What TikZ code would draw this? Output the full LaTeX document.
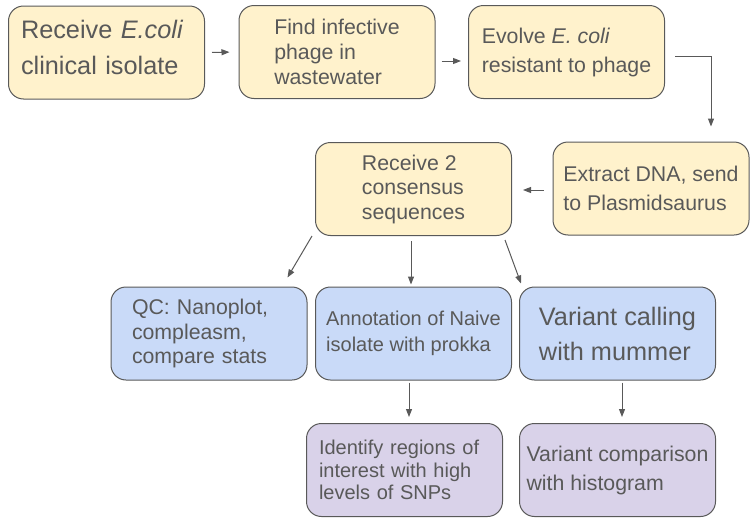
\documentclass[tikz,border=0pt]{standalone}
\usepackage{fontspec}
\setmainfont{Liberation Sans}
\usetikzlibrary{arrows.meta}
\definecolor{boxyellow}{HTML}{FFF2CC}
\definecolor{boxblue}{HTML}{C9DAF8}
\definecolor{boxpurple}{HTML}{D9D2E9}
\definecolor{linegray}{HTML}{595959}
\begin{document}
\begin{tikzpicture}[
        x=1pt, y=-1pt,
        every node/.style={draw=linegray, line width=1pt, rounded corners=15pt, minimum width=196pt, minimum height=93pt, inner xsep=5pt, align=left, text=linegray, font=\fontsize{21.3}{24.5}\selectfont},
        yellowbox/.style={fill=boxyellow},
        bluebox/.style={fill=boxblue},
        purplebox/.style={fill=boxpurple},
        arrow/.style={draw=linegray, line width=1pt, -{Triangle[length=8pt,width=6pt]}},
    ]
    \useasboundingbox (0,0) rectangle (756,525);
    % top row
    \node[yellowbox, text width=171pt, font=\fontsize{25.3}{36}\selectfont] (receive) at (106.5,52.5) {Receive \textit{E.coli}\\clinical isolate\rule[-11pt]{0pt}{11pt}};
    \node[yellowbox, font=\fontsize{21.3}{25}\selectfont] (find) at (337,52) {Find infective\\phage in\\wastewater};
    \node[yellowbox, font=\fontsize{21.3}{29}\selectfont] (evolve) at (566.5,52) {Evolve \textit{E. coli}\\resistant to phage};
    % second row
    \node[yellowbox, font=\fontsize{21.3}{29}\selectfont] (extract) at (651,188.5) {Extract DNA, send\\to Plasmidsaurus};
    \node[yellowbox] (consensus) at (413.5,189) {Receive 2\\consensus\\sequences};
    % analysis
    \node[bluebox, text width=154pt] (qc) at (209,333.5) {QC: Nanoplot,\\compleasm,\\compare stats};
    \node[bluebox, font=\fontsize{20}{26}\selectfont] (annotation) at (413.5,333.5) {Annotation of Naive\\isolate with prokka};
    \node[bluebox, font=\fontsize{25.3}{35}\selectfont] (mummer) at (617.5,333.5) {Variant calling\\with mummer};
    \node[purplebox, text width=171pt, font=\fontsize{20}{22.5}\selectfont] (snps) at (404.5,470) {Identify regions of\\interest with high\\levels of SNPs};
    \node[purplebox, font=\fontsize{21.3}{29}\selectfont] (histogram) at (617.5,470) {Variant comparison\\with histogram};
    % arrows
    \draw[arrow, shorten <=7pt, shorten >=9pt] (receive.east) -- (find.west);
    \draw[arrow, shorten <=6pt, shorten >=7pt] ([yshift=-9pt]find.east) -- ([yshift=-9pt]evolve.west);
    \draw[arrow, shorten >=15pt] ([xshift=10pt,yshift=-4pt]evolve.east) -| ([xshift=60pt]extract.north);
    \draw[arrow, shorten <=9pt, shorten >=11pt] ([yshift=-1.5pt]extract.west) -- ([yshift=-1pt]consensus.east);
    \draw[arrow] ([xshift=-3pt]consensus.south west) -- ([xshift=-20pt,yshift=9pt]qc.north east);
    \draw[arrow, shorten <=5pt, shorten >=2pt] ([xshift=-2.5pt]consensus.south) -- ([xshift=-2.5pt]annotation.north);
    \draw[arrow] ([xshift=-7pt,yshift=-4pt]consensus.south east) -- ([xshift=2pt,yshift=3pt]mummer.north west);
    \draw[arrow, shorten <=2pt, shorten >=6pt] ([xshift=-4.5pt]annotation.south) -- ([xshift=4.5pt]snps.north);
    \draw[arrow, shorten <=2pt, shorten >=6pt] ([xshift=4.5pt]mummer.south) -- ([xshift=4.5pt]histogram.north);
\end{tikzpicture}
\end{document}
